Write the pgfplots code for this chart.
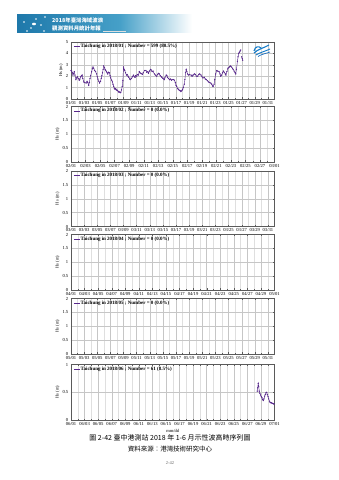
\documentclass[border=0pt]{standalone}
\usepackage{fontspec}
\setmainfont{Liberation Serif}
\newfontfamily\cjk{Noto Sans CJK TC}
\usepackage{pgfplots}
\pgfplotsset{compat=1.18}
\definecolor{dat}{RGB}{88,40,140}
\definecolor{bannerD}{RGB}{30,120,170}
\definecolor{bannerA}{RGB}{70,160,200}
\definecolor{axc}{RGB}{90,90,90}

\pgfplotstableread{
x y
0.00 2.50
0.10 2.45
0.20 2.30
0.30 2.10
0.40 2.25
0.50 2.40
0.60 2.10
0.75 1.70
0.85 1.85
1.00 1.95
1.10 1.80
1.25 1.65
1.35 1.75
1.50 1.95
1.60 2.05
1.70 2.10
1.80 1.80
1.95 1.50
2.10 1.45
2.30 1.40
2.45 1.55
2.55 1.45
2.70 1.20
2.80 1.45
2.90 1.80
3.00 2.05
3.15 2.40
3.25 2.65
3.35 2.80
3.45 2.70
3.60 2.50
3.75 2.40
3.90 2.20
4.00 1.95
4.10 1.75
4.25 1.55
4.35 1.40
4.50 1.55
4.60 1.80
4.70 2.05
4.80 2.30
4.90 2.60
4.98 2.90
5.10 2.75
5.20 2.60
5.30 2.50
5.40 2.40
5.50 2.30
5.60 2.20
5.70 2.35
5.85 2.30
5.95 2.05
6.05 1.85
6.20 1.65
6.30 1.50
6.40 1.30
6.50 1.10
6.60 0.95
6.70 0.85
6.80 0.90
6.90 0.80
7.00 0.78
7.10 0.75
7.20 0.65
7.30 0.60
7.40 0.62
7.50 0.55
7.60 0.60
7.70 0.80
7.80 1.10
7.90 1.60
8.00 2.80
8.10 2.60
8.20 2.50
8.30 2.30
8.45 2.10
8.55 2.15
8.70 2.00
8.80 1.90
8.95 1.75
9.05 1.70
9.20 1.80
9.35 1.95
9.50 2.10
9.60 2.00
9.75 1.90
9.85 2.05
10.00 2.00
10.10 2.15
10.25 2.10
10.40 2.40
10.50 2.30
10.65 2.25
10.80 2.20
10.90 2.15
11.00 2.30
11.20 2.50
11.40 2.50
11.55 2.35
11.70 2.40
11.80 2.25
11.95 2.45
12.10 2.60
12.20 2.55
12.35 2.40
12.50 2.45
12.70 2.20
12.85 2.10
13.05 2.00
13.20 2.15
13.30 2.25
13.45 2.20
13.60 2.05
13.75 1.95
13.85 1.90
14.00 1.80
14.20 1.70
14.30 1.85
14.50 2.10
14.60 2.05
14.70 1.90
14.85 1.80
15.00 1.70
15.15 1.75
15.30 1.65
15.40 1.70
15.60 1.70
15.75 1.65
15.90 1.45
16.00 1.20
16.10 1.10
16.25 0.90
16.40 0.85
16.50 0.75
16.65 0.72
16.75 0.65
16.90 0.75
17.00 0.85
17.10 1.00
17.25 1.30
17.35 1.70
17.45 2.30
17.55 2.60
17.65 2.40
17.75 2.20
17.90 2.10
18.05 2.15
18.30 2.10
18.45 2.00
18.60 2.10
18.80 2.20
18.95 2.15
19.10 2.00
19.30 2.00
19.45 2.15
19.60 2.20
19.80 2.10
19.95 1.95
20.10 1.85
20.30 1.90
20.45 1.75
20.60 1.70
20.80 1.60
20.95 1.50
21.10 1.45
21.30 1.40
21.45 1.30
21.55 1.15
21.65 1.10
21.80 1.30
21.90 1.70
22.05 2.20
22.20 2.50
22.35 2.45
22.55 2.40
22.70 2.20
22.80 2.00
22.95 2.10
23.10 2.30
23.20 2.45
23.35 2.35
23.50 2.20
23.60 2.10
23.75 2.40
23.90 2.70
24.05 2.75
24.20 2.85
24.30 2.90
24.45 2.80
24.60 2.70
24.70 2.60
24.85 2.45
25.00 2.30
25.10 2.20
25.20 2.60
25.35 3.30
25.45 3.70
25.55 4.00
25.65 4.10
25.75 4.20
25.85 4.30
}\janA

\pgfplotstableread{
x y
26.00 3.70
26.08 3.55
26.15 3.40
}\janB

\pgfplotstableread{
x y
27.45 0.52
27.52 0.58
27.60 0.66
27.68 0.60
27.75 0.52
27.85 0.48
27.95 0.45
28.05 0.42
28.15 0.40
28.25 0.37
28.35 0.35
28.45 0.38
28.55 0.43
28.65 0.46
28.75 0.49
28.85 0.50
28.95 0.46
29.05 0.42
29.15 0.38
29.25 0.34
29.35 0.32
29.45 0.31
29.55 0.31
29.65 0.30
29.75 0.30
29.85 0.29
29.95 0.29
}\jun

\pgfplotsset{
  panel/.style={
    scale only axis, width=203.5pt, height=55.5pt, anchor=south west,
    xmin=0, ymin=0,
    axis line style={axc, line width=0.5pt},
    tick style={axc, line width=0.3pt}, tick align=inside,
    major tick length=1.5pt, minor tick length=0.8pt,
    xtick={0,2,...,30}, minor xtick={1,3,...,31},
    grid=both,
    major grid style={gray!45, line width=0.35pt},
    minor grid style={gray!25, line width=0.3pt},
    ticklabel style={font=\fontsize{4.6}{5}\selectfont},
    /pgf/number format/assume math mode=true,
    xticklabel style={yshift=1.2pt},
    yticklabel style={xshift=0.8pt},
    ylabel={Hs (m)},
    ylabel style={font=\fontsize{4.5}{5}\selectfont, yshift=-4pt},
    legend style={draw=none, fill=none, at={(0.01,0.985)}, anchor=north west,
      font=\bfseries\fontsize{5}{6}\selectfont, inner sep=0.5pt,
      nodes={inner sep=0.5pt}},
    legend cell align=left,
    legend image code/.code={\draw[dat, line width=0.5pt] (0pt,0pt) -- (6pt,0pt);},
  },
  hs/.style={dat, line width=0.45pt, mark=*, mark size=0.35pt, mark options={dat}},
  two/.style={ymax=2, ytick={0,0.5,1,1.5,2}, yticklabels={0,0.5,1,1.5,2}},
}

\begin{document}
\begin{tikzpicture}
\path[fill=white, use as bounding box] (0pt,0pt) rectangle (339pt,480pt);

% banner
\shade[left color=bannerD, right color=bannerA] (17pt,447pt) rectangle (120pt,465pt);
\shade[left color=bannerA, right color=white] (120pt,447pt) rectangle (192pt,465pt);
\foreach \p in {(24pt,458pt),(31pt,452pt),(36pt,461pt),(41pt,455pt),(45pt,463pt),(27pt,449pt),(44pt,449pt)}
  \fill[white] \p circle (0.8pt);
\fill[white] (34pt,456pt) ellipse (2pt and 1.3pt);
\node[anchor=west, text=white, inner sep=0pt, font=\cjk\bfseries\fontsize{5.4}{6}\selectfont] at (52pt,459.5pt) {2018年臺灣海域波浪};
\node[anchor=west, text=white, inner sep=0pt, font=\cjk\bfseries\fontsize{5.4}{6}\selectfont] at (52pt,451.5pt) {觀測資料月統計年報};
\draw[white!75!gray, line width=0.3pt] (103pt,449.3pt) -- (126pt,449.3pt);

% panel 1
\begin{axis}[panel, at={(71pt,381pt)}, height=57pt, xmax=31, ymax=5, ytick={0,1,2,3,4,5},
  xticklabels={01/01,01/03,01/05,01/07,01/09,01/11,01/13,01/15,01/17,01/19,01/21,01/23,01/25,01/27,01/29,01/31}]
\addplot[hs] table[x=x,y=y] {\janA};
\addlegendentry{Taichung in 2018/01 ; Number = 599 (80.5\%)}
\addplot[hs, forget plot] table[x=x,y=y] {\janB};
\end{axis}
% logo
\begin{scope}[shift={(262pt,430pt)}]
\draw[cyan!60!blue, line width=1.1pt] (-8pt,-3pt) .. controls (-4pt,1pt) and (2pt,2pt) .. (7pt,5pt);
\draw[cyan!60!blue, line width=1.1pt] (-8pt,-1pt) .. controls (-7pt,4pt) and (-3pt,4pt) .. (-1pt,2pt);
\draw[cyan!60!blue, line width=0.9pt] (-6pt,-5pt) .. controls (-1pt,-2pt) and (4pt,-1pt) .. (8pt,1pt);
\draw[cyan!50!blue, line width=0.7pt] (-4pt,-6.5pt) .. controls (0pt,-4pt) and (4pt,-3.5pt) .. (8pt,-2pt);
\end{scope}

% panel 2
\begin{axis}[panel, two, at={(71pt,318pt)}, xmax=28, xtick={0,2,...,28}, minor xtick={1,3,...,27},
  xticklabels={02/01,02/03,02/05,02/07,02/09,02/11,02/13,02/15,02/17,02/19,02/21,02/23,02/25,02/27,03/01}]
\addlegendimage{dat}
\addlegendentry{Taichung in 2018/02 ; Number = 0 (0.0\%)}
\addplot[draw=none, forget plot] coordinates {(0,0)};
\end{axis}

% panel 3
\begin{axis}[panel, two, at={(71pt,253.5pt)}, xmax=31,
  xticklabels={03/01,03/03,03/05,03/07,03/09,03/11,03/13,03/15,03/17,03/19,03/21,03/23,03/25,03/27,03/29,03/31}]
\addlegendimage{dat}
\addlegendentry{Taichung in 2018/03 ; Number = 0 (0.0\%)}
\addplot[draw=none, forget plot] coordinates {(0,0)};
\end{axis}

% panel 4
\begin{axis}[panel, two, at={(71pt,190pt)}, xmax=30, minor xtick={1,3,...,29},
  xticklabels={04/01,04/03,04/05,04/07,04/09,04/11,04/13,04/15,04/17,04/19,04/21,04/23,04/25,04/27,04/29,05/01}]
\addlegendimage{dat}
\addlegendentry{Taichung in 2018/04 ; Number = 0 (0.0\%)}
\addplot[draw=none, forget plot] coordinates {(0,0)};
\end{axis}

% panel 5
\begin{axis}[panel, two, at={(71pt,126pt)}, xmax=31,
  xticklabels={05/01,05/03,05/05,05/07,05/09,05/11,05/13,05/15,05/17,05/19,05/21,05/23,05/25,05/27,05/29,05/31}]
\addlegendimage{dat}
\addlegendentry{Taichung in 2018/05 ; Number = 0 (0.0\%)}
\addplot[draw=none, forget plot] coordinates {(0,0)};
\end{axis}

% panel 6
\begin{axis}[panel, at={(71pt,60pt)}, xmax=30, minor xtick={1,3,...,29}, ymax=1, ytick={0,0.5,1}, yticklabels={0,0.5,1},
  xticklabels={06/01,06/03,06/05,06/07,06/09,06/11,06/13,06/15,06/17,06/19,06/21,06/23,06/25,06/27,06/29,07/01},
  xlabel={mm/dd}, xlabel style={font=\fontsize{4.5}{5}\selectfont, yshift=3pt}]
\addplot[hs] table[x=x,y=y] {\jun};
\addlegendentry{Taichung in 2018/06 ; Number = 61 (8.5\%)}
\end{axis}

% captions
\node[font=\cjk\fontsize{7}{8}\selectfont, inner sep=0pt] at (170pt,42pt) {圖\ 2-42\ 臺中港測站 2018 年 1-6 月示性波高時序列圖};
\node[font=\cjk\fontsize{6.5}{7}\selectfont, inner sep=0pt] at (170pt,31pt) {資料來源：港灣技術研究中心};
\node[font=\fontsize{4.5}{5}\selectfont, text=gray!80!black, inner sep=0pt] at (170pt,17.3pt) {2-42};
\end{tikzpicture}
\end{document}
